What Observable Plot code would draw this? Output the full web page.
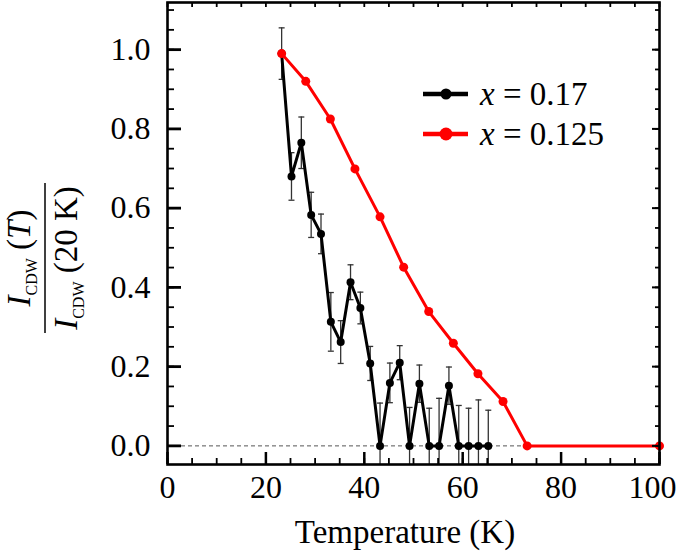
<!DOCTYPE html>
<html><head><meta charset="utf-8">
<script src="https://cdn.jsdelivr.net/npm/d3@7"></script>
<script src="https://cdn.jsdelivr.net/npm/@observablehq/plot@0.6"></script>
<style>body{margin:0;background:#fff} #chart{width:677px;height:552px}</style>
</head><body><div id="chart"></div>
<script>
// x = 0.17 series (with error bars)
const blackT   = [23.2, 25.2, 27.2, 29.2, 31.2, 33.2, 35.2, 37.2, 39.2, 41.2, 43.2, 45.2, 47.2, 49.2, 51.2, 53.2, 55.2, 57.2, 59.2, 61.2, 63.2, 65.2];
const blackY   = [0.99, 0.68, 0.765, 0.583, 0.535, 0.313, 0.262, 0.413, 0.348, 0.208, 0.0, 0.159, 0.21, 0.0, 0.157, 0.0, 0.0, 0.152, 0.0, 0.0, 0.0, 0.0];
const blackErr = [0.065, 0.06, 0.065, 0.057, 0.05, 0.074, 0.054, 0.044, 0.04, 0.043, 0.108, 0.05, 0.043, 0.097, 0.047, 0.095, 0.12, 0.047, 0.102, 0.095, 0.116, 0.09];
// x = 0.125 series
const redT = [23.2, 28.1, 33.1, 38.1, 43.2, 48.0, 53.1, 58.1, 63.1, 68.2, 73.1, 100];
const redY = [0.99, 0.92, 0.825, 0.699, 0.578, 0.451, 0.339, 0.259, 0.182, 0.112, 0.0, 0.0];
// axes
const xMajor = [0, 20, 40, 60, 80, 100];
const xMinor = [0,5,10,15,20,25,30,35,40,45,50,55,60,65,70,75,80,85,90,95,100];
const yMajor = [0, 0.2, 0.4, 0.6, 0.8, 1.0];
const yMinor = [0,0.05,0.1,0.15,0.2,0.25,0.3,0.35,0.4,0.45,0.5,0.55,0.6,0.65,0.7,0.75,0.8,0.85,0.9,0.95,1.0,1.05,1.1];
const legendLabels = ["0.17", "0.125"];
const legendColors = ["#000000", "#ff0000"];
const xLabel = "Temperature (K)";

const black = blackT.map((t, i) => ({t, y: blackY[i], e: blackErr[i]}));
const red = redT.map((t, i) => ({t, y: redY[i]}));

const W = 677, H = 552;
const mL = 167, mR = 18, mT = 2, mB = 88;
const pw = W - mL - mR, ph = H - mT - mB;
const font = "'Liberation Serif', 'Times New Roman', serif";

const cap = {draw(ctx, size) { const w = Math.sqrt(size / Math.PI); ctx.moveTo(-w, 0); ctx.lineTo(w, 0); }};

const plot = Plot.plot({
  width: W, height: H,
  marginLeft: mL, marginRight: mR, marginTop: mT, marginBottom: mB,
  x: {domain: [0, 100]},
  y: {domain: [-0.047, 1.119]},
  style: {fontFamily: font, fontSize: "32px", color: "#000", background: "#fff", overflow: "visible"},
  marks: [
    Plot.ruleY([0], {stroke: "#555", strokeWidth: 1, strokeDasharray: "4,3"}),
    // error bars
    Plot.ruleX(black, {x: "t", y1: d => d.y - d.e, y2: d => d.y + d.e, stroke: "#333", strokeWidth: 1.3, clip: true}),
    Plot.dot(black, {x: "t", y: d => d.y + d.e, symbol: cap, r: 3, stroke: "#333", strokeWidth: 1.3, clip: true}),
    Plot.dot(black, {x: "t", y: d => d.y - d.e, symbol: cap, r: 3, stroke: "#333", strokeWidth: 1.3, clip: true}),
    Plot.line(black, {x: "t", y: "y", stroke: "#000", strokeWidth: 3}),
    Plot.dot(black, {x: "t", y: "y", r: 4, fill: "#000"}),
    Plot.line(red, {x: "t", y: "y", stroke: "#ff0000", strokeWidth: 3}),
    Plot.dot(red, {x: "t", y: "y", r: 4.5, fill: "#ff0000"}),
    // inward ticks
    Plot.tickX(xMinor, {x: d => d, insetTop: ph - 6, stroke: "#000", strokeWidth: 1.8}),
    Plot.tickX(xMajor, {x: d => d, insetTop: ph - 12, stroke: "#000", strokeWidth: 2.5}),
    Plot.tickX(xMinor, {x: d => d, insetBottom: ph - 5, stroke: "#000", strokeWidth: 1.8}),
    Plot.tickY(yMinor, {y: d => d, insetRight: pw - 7, stroke: "#000", strokeWidth: 1.8}),
    Plot.tickY(yMajor, {y: d => d, insetRight: pw - 14, stroke: "#000", strokeWidth: 2.8}),
    Plot.tickY(yMinor, {y: d => d, insetLeft: pw - 4, stroke: "#000", strokeWidth: 1.8}),
    Plot.tickY(yMajor, {y: d => d, insetLeft: pw - 7, stroke: "#000", strokeWidth: 2}),
    Plot.frame({stroke: "#000", strokeWidth: 2.6}),
    Plot.axisX(xMajor.filter(d => d < 100), {tickSize: 0, tickPadding: 11, label: null}),
    Plot.axisX(xMajor.filter(d => d === 100), {tickSize: 0, tickPadding: 11, dx: -7, label: null}),
    Plot.axisY(yMajor, {tickSize: 0, tickPadding: 17, tickFormat: d3.format(".1f"), label: null})
  ]
});

document.getElementById("chart").appendChild(plot);

const svg = d3.select(plot);

// x axis title
svg.append("text").attr("x", 405).attr("y", 543).attr("text-anchor", "middle")
  .style("font-family", font).style("font-size", "33px").attr("fill", "#000").text(xLabel);

// y axis fraction label
const g = svg.append("g").attr("transform", "translate(0,258) rotate(-90)").attr("fill", "#000");
const num = g.append("text").attr("x", 0).attr("y", 30).attr("text-anchor", "middle")
  .style("font-family", font).style("font-size", "33px");
num.append("tspan").style("font-style", "italic").text("I");
num.append("tspan").style("font-size", "16px").attr("dy", 7).text("CDW");
num.append("tspan").attr("dy", -7).text(" (");
num.append("tspan").style("font-style", "italic").text("T");
num.append("tspan").text(")");
g.append("line").attr("x1", -75).attr("x2", 75).attr("y1", 45).attr("y2", 45).attr("stroke", "#000").attr("stroke-width", 1.5);
const den = g.append("text").attr("x", 0).attr("y", 77).attr("text-anchor", "middle")
  .style("font-family", font).style("font-size", "33px");
den.append("tspan").style("font-style", "italic").text("I");
den.append("tspan").style("font-size", "16px").attr("dy", 7).text("CDW");
den.append("tspan").attr("dy", -7).text(" (20 K)");

// legend
const lg = svg.append("g");
legendLabels.forEach((lab, i) => {
  const y = 94 + i * 40;
  lg.append("line").attr("x1", 423).attr("x2", 468).attr("y1", y).attr("y2", y)
    .attr("stroke", legendColors[i]).attr("stroke-width", 4.5);
  lg.append("circle").attr("cx", 446).attr("cy", y).attr("r", i === 0 ? 5.5 : 6.5).attr("fill", legendColors[i]);
  const t = lg.append("text").attr("x", 480).attr("y", y + 11).attr("fill", "#000").attr("text-anchor", "start")
    .style("font-family", font).style("font-size", "33px");
  t.append("tspan").style("font-style", "italic").text("x");
  t.append("tspan").text(" = " + lab);
});
</script>
</body></html>
